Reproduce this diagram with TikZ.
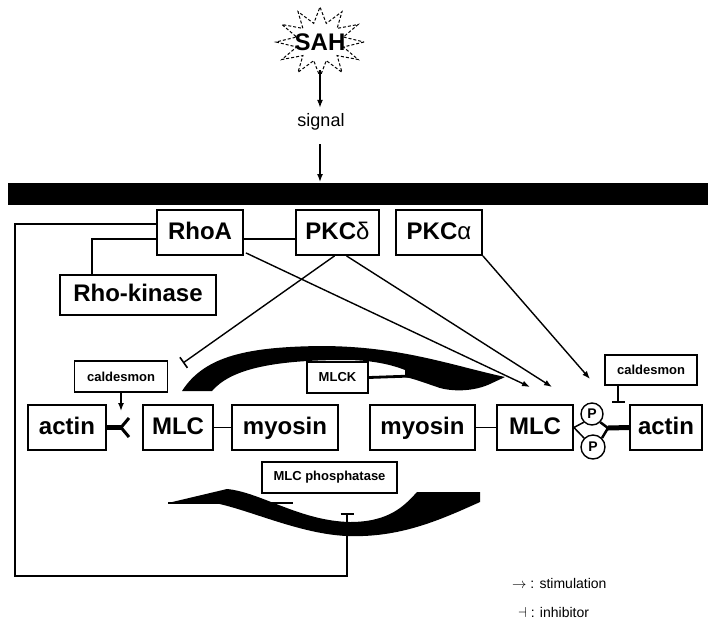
\documentclass[tikz,border=0pt]{standalone}
\usepackage{fontspec}
\setmainfont{Liberation Sans}
\usetikzlibrary{arrows.meta,calc}
\begin{document}
\begin{tikzpicture}[x=1pt,y=-1pt,
  bx/.style={draw,line width=1.8pt,inner sep=0pt,text height=18pt,text depth=5pt,font=\fontsize{24}{26}\selectfont\bfseries},
  sbx/.style={draw,line width=1.5pt,inner sep=0pt,font=\fontsize{13}{14}\selectfont\bfseries},
  pc/.style={circle,draw,line width=1.4pt,minimum size=22pt,inner sep=0pt,font=\fontsize{14}{14}\selectfont\bfseries},
  ln/.style={line width=1.4pt},
  stim/.style={ln,-{Latex[length=8pt,width=6pt]}},
  inh/.style={ln,-{Bar[width=13pt,line width=1.6pt]}},
  lg/.style={anchor=west,inner sep=0pt,font=\fontsize{14}{15}\selectfont},
]
\useasboundingbox (0,0) rectangle (708,621);
% membrane
\fill (8,183) rectangle (708,205);
% SAH starburst
\draw[line width=1pt,dash pattern=on 3pt off 2pt] plot[samples at={0,15,...,345}]
  ({320+44*cos(\x)*(1-0.45*mod(\x,30)/15)}, {42+35*sin(\x)*(1-0.45*mod(\x,30)/15)}) -- cycle;
\node[inner sep=0pt,minimum height=56pt,font=\fontsize{24}{26}\selectfont\bfseries] (sah) at (320,42) {SAH};
\node[inner sep=0pt,minimum height=28pt,font=\fontsize{18}{20}\selectfont] (signal) at (321,122) {signal};
\coordinate (mem) at (320,182);
\draw[stim] (sah.south) -- (sah.south |- signal.north);
\draw[stim] ($(signal.south -| mem)+(0,8)$) -- (mem);

% top row
\node[bx,minimum width=86pt,minimum height=45pt] (rhoa) at (200,232.5) {RhoA};
\node[bx,minimum width=83pt,minimum height=45pt] (pkcd) at (337.5,232.5) {PKC{\mdseries δ}};
\node[bx,minimum width=86pt,minimum height=45pt] (pkca) at (439,232.5) {PKC{\mdseries α}};
\node[bx,minimum width=156pt,minimum height=40pt] (rhok) at (138,295) {Rho-kinase};

% middle row
\node[bx,minimum width=78pt,minimum height=45pt] (actinL) at (67,427.5) {actin};
\node[bx,minimum width=70pt,minimum height=45pt] (mlcL) at (178,427.5) {MLC};
\node[bx,minimum width=106pt,minimum height=45pt] (myosinL) at (285,427.5) {myosin};
\node[bx,minimum width=105pt,minimum height=45pt] (myosinR) at (422.5,427.5) {myosin};
\node[bx,minimum width=76pt,minimum height=45pt] (mlcR) at (535,427.5) {MLC};
\node[bx,minimum width=72pt,minimum height=45pt] (actinR) at (666,427.5) {actin};

\node[sbx,minimum width=93pt,minimum height=31pt] (caldL) at (121,376.5) {caldesmon};
\node[sbx,minimum width=92pt,minimum height=30pt] (caldR) at (651,370) {caldesmon};
\node[sbx,minimum width=61pt,minimum height=31pt] (mlck) at (337.5,377.5) {MLCK};
\node[sbx,minimum width=135pt,minimum height=31pt] (mlcp) at (329.5,477.5) {MLC phosphatase};

\node[pc] (p1) at (592,414) {P};
\node[pc,minimum size=24pt] (p2) at (593,447) {P};

% black curved arrows
\fill (182,391) .. controls (205,355) and (250,347) .. (320,346)
  .. controls (400,346) and (450,365) .. (505,377)
  -- (490,384) .. controls (475,391) and (455,392) .. (440,388)
  .. controls (425,383) and (415,379) .. (405,377)
  -- (405,370) .. controls (390,364) and (370,360) .. (345,360)
  .. controls (270,360) and (230,370) .. (212,391) -- cycle;
\coordinate (mj) at (412,376);
\draw[line width=2.8pt] (mlck.east) -- (mj);

\fill (168,503) -- (227,489) .. controls (260,492) and (300,521) .. (350,522)
  .. controls (390,522) and (405,505) .. (417,492) -- (480,492) -- (480,502)
  .. controls (440,520) and (400,538) .. (347,536)
  .. controls (300,534) and (250,510) .. (215,503) -- cycle;
\draw[ln] (168,503) -- (293,503);

% connections among boxes
\draw[ln] ($(rhoa.east)+(0,6.5)$) -- ($(pkcd.west)+(0,6.5)$);
\coordinate (rk) at (92,239);
\draw[ln] ($(rhoa.west)+(0,6.5)$) -- (rk) -- (rk |- rhok.north);

\coordinate (fb1) at (15,224);
\coordinate (fb2) at (15,576);
\coordinate (fb3) at (347,576);
\coordinate (fb4) at (347,513);
\draw[inh] ($(rhoa.west)+(0,-8.5)$) -- (fb1) -- (fb2) -- (fb3) -- (fb4);

\coordinate (tRho) at (530,387);
\coordinate (tPd) at (552,387);
\coordinate (tPdi) at (183,363);
\coordinate (tPa) at (590,379);
\draw[stim] ($(rhoa.south east)+(2,-3)$) -- (tRho);
\draw[stim] ($(pkcd.south)+(9,0)$) -- (tPd);
\draw[inh] ($(pkcd.south)+(-3,0)$) -- (tPdi);
\draw[stim] (pkca.south east) -- (tPa);

\draw[ln] (mlcL) -- (myosinL);
\draw[ln] (myosinR) -- (mlcR);

% left actin-MLC junction
\coordinate (jL) at (121,427.5);
\coordinate (cl) at (121,411);
\draw[line width=5pt] (actinL.east) -- (jL);
\draw[line width=3pt] (129,418) -- (jL) -- (129,437);
\draw[stim] (caldL.south) -- (cl);

% right MLC-P-actin junction
\coordinate (jR) at (608,428);
\draw[line width=1.5pt] (p1.south west) -- (mlcR.east) -- (p2.north west);
\draw[line width=2.5pt] (p1.south east) -- (jR) -- (p2.north east);
\draw[line width=5pt] (jR) -- (actinR.west);
\coordinate (cr) at (618,403);
\draw[inh] (caldR.south -| cr) -- (cr);

% legend
\node[lg] (lg1) at (512,583) {$\rightarrow$ : stimulation};
\node[lg] (lg2) at (518,612) {$\dashv$ : inhibitor};
\end{tikzpicture}
\end{document}
